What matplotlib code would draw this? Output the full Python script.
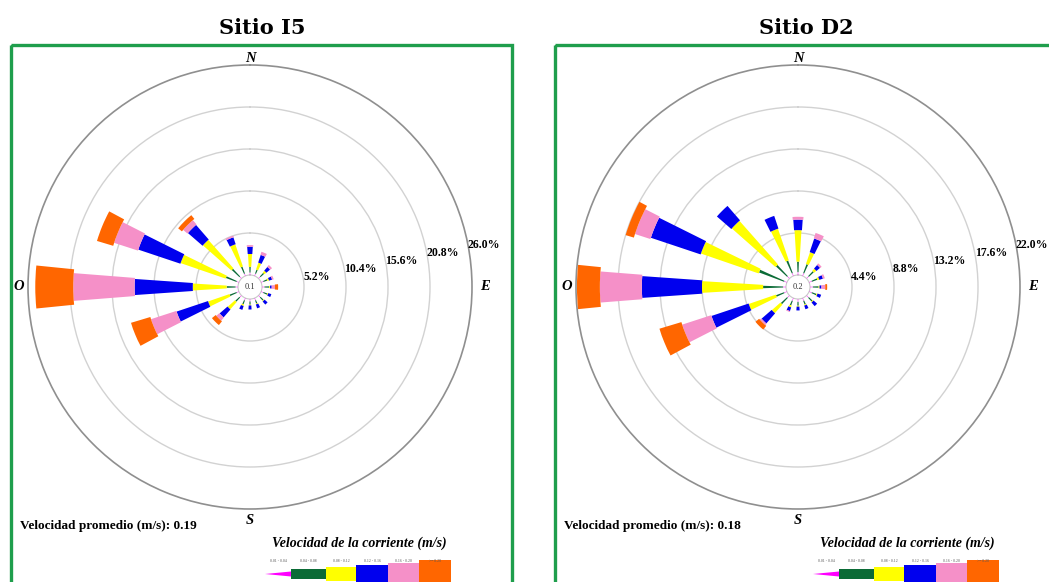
import numpy as np
import matplotlib.pyplot as plt
from matplotlib.patches import Rectangle, Polygon

# 16 compass sectors, clockwise from north
directions = ["N", "NNE", "NE", "ENE", "E", "ESE", "SE", "SSE",
              "S", "SSW", "SW", "WSW", "W", "WNW", "NW", "NNW"]

# speed classes (m/s)
class_labels = ["0.01 - 0.04", "0.04 - 0.08", "0.08 - 0.12",
                "0.12 - 0.16", "0.16 - 0.20", ">= 0.20"]
class_colors = ["#ff00ff", "#0b6b36", "#ffff00", "#0000ee", "#f590c8", "#ff6600"]
class_widths = [2, 4, 7, 8, 9, 11.5]  # sector width in degrees

# Sitio I5: frequency (%) per direction for each speed class
i5_c1 = [0.3] * 16
i5_c2 = [0.7, 0.5, 0.6, 0.5, 0.6, 0.5, 0.5, 0.4, 0.4, 0.5, 0.7, 0.9, 1.1, 1.4, 1.3, 0.9]
i5_c3 = [1.6, 0.9, 0.3, 0.2, 0.1, 0.1, 0.1, 0.1, 0.1, 0.2, 1.2, 2.8, 4.2, 5.9, 4.7, 2.9]
i5_c4 = [0.9, 1.0, 0.6, 0.4, 0.2, 0.4, 0.5, 0.5, 0.5, 0.5, 1.3, 4.1, 7.2, 5.5, 2.4, 0.9]
i5_c5 = [0.2, 0.4, 0.3, 0.2, 0.4, 0.0, 0.0, 0.0, 0.0, 0.0, 0.5, 3.3, 7.6, 3.1, 0.7, 0.2]
i5_c6 = [0.0, 0.0, 0.0, 0.0, 0.4, 0.0, 0.0, 0.0, 0.0, 0.0, 0.6, 2.5, 4.7, 2.1, 0.6, 0.0]
i5_rings = [5.2, 10.4, 15.6, 20.8, 26.0]
i5_calm = 0.1
i5_mean = 0.19

# Sitio D2
d2_c1 = [0.3] * 16
d2_c2 = [1.1, 1.0, 0.7, 0.6, 0.6, 0.5, 0.5, 0.4, 0.4, 0.5, 0.9, 0.9, 2.1, 2.8, 1.6, 1.4]
d2_c3 = [3.3, 1.3, 0.3, 0.2, 0.1, 0.1, 0.1, 0.1, 0.1, 0.2, 1.2, 3.0, 6.4, 6.4, 6.1, 3.5]
d2_c4 = [1.1, 1.5, 0.5, 0.4, 0.2, 0.4, 0.5, 0.4, 0.4, 0.4, 1.4, 4.1, 6.3, 5.5, 2.0, 1.4]
d2_c5 = [0.3, 0.6, 0.2, 0.2, 0.4, 0.0, 0.0, 0.0, 0.0, 0.1, 0.2, 3.2, 4.4, 1.7, 0.0, 0.0]
d2_c6 = [0.0, 0.0, 0.0, 0.0, 0.2, 0.0, 0.0, 0.0, 0.0, 0.0, 0.5, 2.4, 2.4, 0.9, 0.0, 0.0]
d2_rings = [4.4, 8.8, 13.2, 17.6, 22.0]
d2_calm = 0.2
d2_mean = 0.18

W, H = 1049, 582
SERIF = ["Liberation Serif", "DejaVu Serif"]
FRAME = "#1f9e4c"


def px(x, y, w=0, h=0):
    # pixel box (top-left origin) -> figure fraction rect
    return [x / W, 1 - (y + h) / H, w / W, h / H]


def draw_rose(fig, cx, cy, radius, freqs, rings, calm):
    ax = fig.add_axes(px(cx - radius, cy - radius, 2 * radius, 2 * radius),
                      projection="polar")
    ax.set_theta_zero_location("N")
    ax.set_theta_direction(-1)
    rmax = rings[-1]
    ax.set_ylim(0, rmax)
    ax.set_rorigin(-rmax * 12 / (radius - 12))

    theta = np.deg2rad(np.arange(len(directions)) * 22.5)
    bottom = np.zeros(len(directions))
    for vals, color, width in zip(freqs, class_colors, class_widths):
        vals = np.asarray(vals, dtype=float)
        ax.bar(theta, vals, width=np.deg2rad(width), bottom=bottom,
               color=color, edgecolor="none", zorder=3)
        bottom += vals

    ax.set_xticks([])
    ax.set_yticks(rings[:-1])
    ax.set_yticklabels([])
    ax.yaxis.grid(True, color="#d2d2d2", lw=1.0)
    ax.spines["polar"].set_color("#8f8f8f")
    ax.spines["polar"].set_linewidth(1.2)
    ax.spines["inner"].set_color("#c8c8c8")
    ax.spines["inner"].set_linewidth(0.8)

    for r in rings:
        ax.text(np.deg2rad(79), r, f"{r:.1f}%", ha="left", va="center",
                fontsize=8.5, fontweight="bold", family=SERIF, zorder=5)
    ax.text(0.5, 0.5, f"{calm:.1f}", transform=ax.transAxes, ha="center",
            va="center", fontsize=6, family=SERIF, color="#333333")

    lab = dict(transform=ax.transAxes, fontsize=10.5, fontweight="bold",
               fontstyle="italic", family=SERIF)
    ax.text(0.5, 1.0, "N", ha="center", va="bottom", **lab)
    ax.text(0.5, -0.012, "S", ha="center", va="top", **lab)
    ax.text(-0.008, 0.5, "O", ha="right", va="center", **lab)
    ax.text(1.018, 0.5, "E", ha="left", va="center", **lab)
    return ax


def draw_legend(ov, x0, y0):
    ov.text(x0 + 94, y0 - 31, "Velocidad de la corriente (m/s)", ha="center",
            va="center", fontsize=10, fontweight="bold", fontstyle="italic",
            family=SERIF)
    seg = [26, 35, 30, 32, 31, 32]
    half = [2.5, 5, 7, 9, 11, 14]
    x = x0
    for i, (color, label) in enumerate(zip(class_colors, class_labels)):
        if i == 0:
            shape = [(x, y0), (x + seg[i], y0 - half[i]), (x + seg[i], y0 + half[i])]
        else:
            shape = [(x, y0 - half[i]), (x + seg[i], y0 - half[i]),
                     (x + seg[i], y0 + half[i]), (x, y0 + half[i])]
        ov.add_patch(Polygon(shape, closed=True, facecolor=color, edgecolor="none"))
        ov.text(x + seg[i] / 2, y0 - 13, label, ha="center", va="center",
                fontsize=2.8, family=SERIF, color="#555555")
        x += seg[i]


fig = plt.figure(figsize=(W / 100, H / 100), dpi=100)
ov = fig.add_axes([0, 0, 1, 1])
ov.set_xlim(0, W)
ov.set_ylim(H, 0)
ov.axis("off")

sites = [
    ("Sitio I5", 11, 250, [i5_c1, i5_c2, i5_c3, i5_c4, i5_c5, i5_c6], i5_rings, i5_calm, i5_mean),
    ("Sitio D2", 555, 798, [d2_c1, d2_c2, d2_c3, d2_c4, d2_c5, d2_c6], d2_rings, d2_calm, d2_mean),
]

for title, fx, cx, freqs, rings, calm, mean in sites:
    ov.add_patch(Rectangle((fx, 45), 501, 600, fill=False, edgecolor=FRAME, lw=2.4))
    ov.text(fx + 251, 28, title, ha="center", va="center", fontsize=15,
            fontweight="bold", family=["DejaVu Serif"])
    ov.text(fx + 9, 526, f"Velocidad promedio (m/s): {mean:.2f}", ha="left",
            va="center", fontsize=9.5, fontweight="bold", family=SERIF)
    draw_legend(ov, cx + 15, 574)
    draw_rose(fig, cx, 287, 222, freqs, rings, calm)

fig.savefig("out.png", dpi=100)
